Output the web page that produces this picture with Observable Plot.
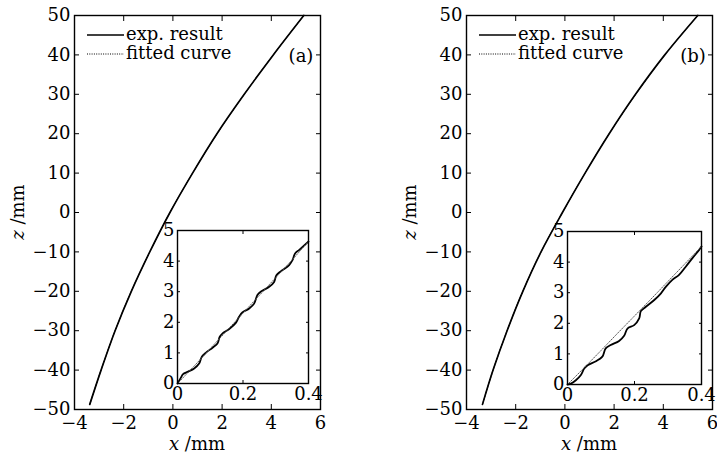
<!DOCTYPE html>
<html>
<head>
<meta charset="utf-8">
<script src="https://cdn.jsdelivr.net/npm/d3@7"></script>
<script src="https://cdn.jsdelivr.net/npm/@observablehq/plot@0.6"></script>
<style>
  html, body { margin: 0; padding: 0; background: #fff; }
  #chart { position: relative; width: 717px; height: 455px; color: #000; font-family: "DejaVu Serif", serif; overflow: hidden; }
  #chart > * { position: absolute; }
  .lab { font-size: 18px; white-space: nowrap; line-height: 1; }
</style>
</head>
<body>
<div id="chart"></div>
<script>
// ---------- data ----------
const xTicks = [-4, -2, 0, 2, 4, 6];
const zTicks = [-50, -40, -30, -20, -10, 0, 10, 20, 30, 40, 50];
const insetXTicks = [0, 0.2, 0.4];
const insetZTicks = [0, 1, 2, 3, 4, 5];
const seriesNames = ["exp. result", "fitted curve"];
const panelLabels = ["(a)", "(b)"];

// panel (a) main curve
const aExpZ = [-48.7, -40, -30, -20, -10, 0, 10, 20, 30, 40, 50];
const aExpX = [-3.38, -2.92, -2.35, -1.69, -0.94, -0.12, 0.80, 1.79, 2.90, 4.08, 5.32];
const aFitZ = [-48.7, -40, -30, -20, -10, 0, 10, 20, 30, 40, 50];
const aFitX = [-3.38, -2.92, -2.35, -1.69, -0.94, -0.12, 0.80, 1.80, 2.90, 4.08, 5.32];
// panel (a) inset
const aInsX = [0, 0.010, 0.017, 0.031, 0.051, 0.066, 0.074, 0.087, 0.107, 0.122, 0.129, 0.137, 0.158, 0.178, 0.188, 0.198, 0.219, 0.234, 0.244, 0.254, 0.280, 0.295, 0.302, 0.316, 0.341, 0.351, 0.359, 0.371, 0.397, 0.400];
const aInsZ = [0, 0.185, 0.305, 0.38, 0.49, 0.65, 0.87, 1.01, 1.17, 1.31, 1.53, 1.63, 1.78, 1.98, 2.18, 2.32, 2.45, 2.61, 2.89, 3.00, 3.16, 3.32, 3.54, 3.67, 3.87, 4.03, 4.25, 4.36, 4.61, 4.64];
const aInsFitX = [0, 0.05, 0.10, 0.15, 0.20, 0.25, 0.30, 0.35, 0.40];
const aInsFitZ = [0, 0.56, 1.14, 1.72, 2.30, 2.88, 3.46, 4.04, 4.64];

// panel (b) main curve
const bExpZ = [-48.7, -40, -30, -20, -10, 0, 10, 20, 30, 40, 50];
const bExpX = [-3.35, -2.92, -2.35, -1.71, -0.97, -0.10, 0.82, 1.80, 2.87, 4.06, 5.40];
const bFitZ = [-48.7, -40, -30, -20, -10, 0, 10, 20, 30, 40, 50];
const bFitX = [-3.35, -2.92, -2.35, -1.71, -0.97, -0.10, 0.82, 1.80, 2.88, 4.06, 5.40];
// panel (b) inset
const bInsX = [0, 0.010, 0.025, 0.040, 0.050, 0.060, 0.085, 0.104, 0.114, 0.129, 0.154, 0.169, 0.179, 0.199, 0.214, 0.219, 0.234, 0.259, 0.279, 0.294, 0.313, 0.333, 0.353, 0.373, 0.393, 0.400];
const bInsZ = [0, 0.03, 0.14, 0.31, 0.52, 0.63, 0.76, 0.91, 1.18, 1.29, 1.42, 1.59, 1.83, 1.94, 2.16, 2.40, 2.54, 2.76, 2.98, 3.20, 3.42, 3.58, 3.85, 4.13, 4.40, 4.51];
const bInsFitX = [0, 0.05, 0.10, 0.15, 0.20, 0.25, 0.30, 0.35, 0.40];
const bInsFitZ = [0, 0.55, 1.11, 1.68, 2.24, 2.80, 3.37, 3.94, 4.51];

// ---------- helpers ----------
const zip = (xs, zs) => xs.map((x, i) => ({x, z: zs[i]}));
const FONT = "DejaVu Serif";
const chart = document.getElementById("chart");
const numFmt = d => (d < 0 ? "\u2212" : "") + String(Math.abs(d));

function boxAxes(xt, yt, len, fs, padX, padY) {
  const blank = () => "";
  return [
    Plot.axisX({anchor: "bottom", ticks: xt, tickSize: 0, tickPadding: padX, label: null, fontSize: fs, tickFormat: numFmt}),
    Plot.axisY({anchor: "left", ticks: yt, tickSize: 0, tickPadding: padY, label: null, fontSize: fs, tickFormat: numFmt}),
    Plot.axisX({anchor: "bottom", ticks: xt, tickSize: len, dy: -len, tickFormat: blank, label: null}),
    Plot.axisX({anchor: "top", ticks: xt, tickSize: len, dy: len, tickFormat: blank, label: null}),
    Plot.axisY({anchor: "left", ticks: yt, tickSize: len, dx: len, tickFormat: blank, label: null}),
    Plot.axisY({anchor: "right", ticks: yt, tickSize: len, dx: -len, tickFormat: blank, label: null})
  ];
}

function mainPlot(cfg) {
  return Plot.plot({
    width: cfg.width, height: 455,
    marginLeft: cfg.ml, marginRight: cfg.mr, marginTop: 15, marginBottom: 46,
    style: {fontFamily: FONT, fontSize: "18px", background: "transparent", overflow: "visible", color: "#000"},
    x: {domain: [-4, 6]},
    y: {domain: [-50, 50]},
    marks: [
      Plot.line(cfg.fit, {x: "x", y: "z", stroke: "#000", strokeWidth: 1, strokeDasharray: "1,1.5", curve: "catmull-rom"}),
      Plot.line(cfg.exp, {x: "x", y: "z", stroke: "#000", strokeWidth: 1.7, curve: "catmull-rom"}),
      Plot.frame({stroke: "#000", strokeWidth: 1.4}),
      ...boxAxes(xTicks, zTicks, 5, 18, 7, 4)
    ]
  });
}

function insetPlot(cfg) {
  return Plot.plot({
    width: cfg.width, height: cfg.height,
    marginLeft: cfg.ml, marginRight: cfg.mr, marginTop: cfg.mt, marginBottom: cfg.mb,
    style: {fontFamily: FONT, fontSize: "18px", background: "transparent", overflow: "visible", color: "#000"},
    x: {domain: [0, 0.4]},
    y: {domain: [0, 5]},
    marks: [
      Plot.frame({fill: "#fff", stroke: "none"}),
      Plot.line(cfg.exp, {x: "x", y: "z", stroke: "#000", strokeWidth: 1.8, curve: "catmull-rom"}),
      Plot.line(cfg.fit, {x: "x", y: "z", stroke: "#555", strokeWidth: 1, strokeDasharray: "1,1.5"}),
      Plot.frame({stroke: "#000", strokeWidth: 1.4}),
      ...boxAxes(insetXTicks, insetZTicks, 3, 18, 4, 3)
    ]
  });
}

function place(el, left, top) {
  el.style.left = left + "px";
  el.style.top = top + "px";
  chart.appendChild(el);
  return el;
}

function legend(frameLeft, label, frameRight) {
  const ns = "http://www.w3.org/2000/svg";
  const svg = document.createElementNS(ns, "svg");
  svg.setAttribute("width", 160);
  svg.setAttribute("height", 40);
  svg.style.overflow = "visible";
  const rows = [{y: 20, base: 25, dash: null}, {y: 39, base: 43.5, dash: "1,1.3"}];
  rows.forEach((r, i) => {
    const l = document.createElementNS(ns, "line");
    l.setAttribute("x1", 0); l.setAttribute("x2", 37);
    l.setAttribute("y1", r.y); l.setAttribute("y2", r.y);
    l.setAttribute("stroke", "#000");
    l.setAttribute("stroke-width", r.dash ? 1 : 1.7);
    if (r.dash) l.setAttribute("stroke-dasharray", r.dash);
    svg.appendChild(l);
    const t = document.createElementNS(ns, "text");
    t.setAttribute("x", 39); t.setAttribute("y", r.base);
    t.setAttribute("font-family", FONT); t.setAttribute("font-size", 18);
    t.textContent = seriesNames[i];
    svg.appendChild(t);
  });
  place(svg, frameLeft + 13, 15);
  const pl = document.createElement("div");
  pl.className = "lab";
  pl.textContent = label;
  pl.style.width = "40px";
  pl.style.textAlign = "center";
  place(pl, frameRight - 19 - 20, 47);
}

function axisLabels(frameLeft, frameRight, zLeft) {
  const xl = document.createElement("div");
  xl.className = "lab";
  xl.innerHTML = "<i>x</i> /mm";
  xl.style.width = "100px";
  xl.style.textAlign = "center";
  place(xl, (frameLeft + frameRight) / 2 - 50, 435);
  const zl = document.createElement("div");
  zl.className = "lab";
  zl.innerHTML = "<i>z</i> /mm";
  zl.style.width = "100px";
  zl.style.textAlign = "center";
  zl.style.transform = "rotate(-90deg)";
  zl.style.transformOrigin = "50% 50%";
  place(zl, zLeft - 50, 212 - 9);
}

// ---------- panel (a) ----------
place(mainPlot({width: 358, ml: 74, mr: 38, exp: zip(aExpX, aExpZ), fit: zip(aFitX, aFitZ)}), 0, 0);
place(insetPlot({width: 185, height: 200, ml: 37, mr: 17, mt: 15, mb: 32, exp: zip(aInsX, aInsZ), fit: zip(aInsFitX, aInsFitZ)}), 140, 215);
legend(74, panelLabels[0], 320);
axisLabels(74, 320, 18);

// ---------- panel (b) ----------
place(mainPlot({width: 359, ml: 108, mr: 5, exp: zip(bExpX, bExpZ), fit: zip(bFitX, bFitZ)}), 358, 0);
place(insetPlot({width: 185, height: 200, ml: 37, mr: 14, mt: 16, mb: 31, exp: zip(bInsX, bInsZ), fit: zip(bInsFitX, bInsFitZ)}), 530, 215);
legend(466, panelLabels[1], 712);
axisLabels(466, 712, 410);
</script>
</body>
</html>
